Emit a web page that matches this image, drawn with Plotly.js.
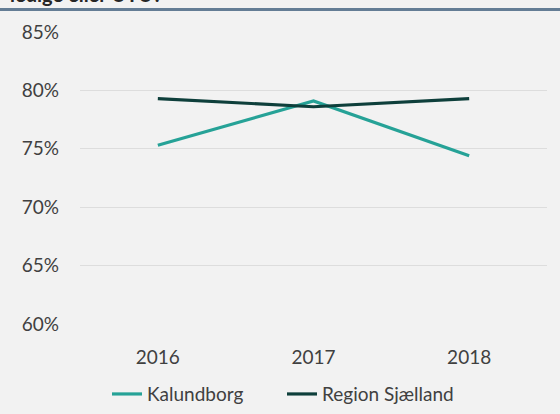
<!DOCTYPE html>
<html>
<head>
<meta charset="utf-8">
<script src="https://cdn.plot.ly/plotly-3.0.1.min.js"></script>
<style>html,body{margin:0;padding:0;background:#f2f2f2;overflow:hidden}#chart{width:560px;height:414px}</style>
</head>
<body>
<div id="chart"></div>
<script>
const years = ['2016', '2017', '2018'];
const kalundborg = [0.753, 0.791, 0.744];
const regionSjaelland = [0.793, 0.786, 0.793];
const yTicks = [0.60, 0.65, 0.70, 0.75, 0.80, 0.85];
const yTickLabels = ['60%', '65%', '70%', '75%', '80%', '85%'];
const seriesNames = ['Kalundborg', 'Region Sjælland'];
const titleText = 'ledige eller UTU?';

const traces = [
  {x: years, y: kalundborg, name: seriesNames[0], type: 'scatter', mode: 'lines',
   line: {color: '#26a297', width: 3.2}},
  {x: years, y: regionSjaelland, name: seriesNames[1], type: 'scatter', mode: 'lines',
   line: {color: '#0e3f3b', width: 3.2}}
];

const layout = {
  width: 560, height: 414,
  paper_bgcolor: '#f2f2f2', plot_bgcolor: '#f2f2f2',
  margin: {l: 80, r: 13, t: 32, b: 90, autoexpand: false},
  font: {family: 'Lato, sans-serif', size: 19, color: '#404040'},
  showlegend: true,
  legend: {orientation: 'h', x: 27/467, xanchor: 'left', y: -0.175, yanchor: 'top',
    font: {size: 19, color: '#404040'}, itemwidth: 30, entrywidth: 130,
    bgcolor: 'rgba(0,0,0,0)'},
  xaxis: {type: 'category', range: [-0.5, 2.5], showgrid: false, zeroline: false,
    showline: false, ticks: '', ticklabelstandoff: 20, fixedrange: true},
  yaxis: {range: [0.6, 0.85], tickvals: yTicks, ticktext: yTickLabels, showgrid: true,
    gridcolor: '#dddddd', gridwidth: 1, zeroline: false, showline: false, ticks: '',
    ticklabelstandoff: 20, fixedrange: true},
  shapes: [{type: 'line', xref: 'paper', yref: 'paper', x0: -80/467, x1: 480/467,
    y0: 1 + (32 - 9.5)/292, y1: 1 + (32 - 9.5)/292, line: {color: '#647d95', width: 3}}],
  annotations: [{text: '<b>' + titleText + '</b>', xref: 'paper', yref: 'paper',
    x: -72/467, xanchor: 'left', y: 1 + (32 - 8)/292, yanchor: 'bottom', showarrow: false,
    font: {size: 20, color: '#262626'}}]
};

Plotly.newPlot('chart', traces, layout, {displayModeBar: false, staticPlot: true});
</script>
</body>
</html>
